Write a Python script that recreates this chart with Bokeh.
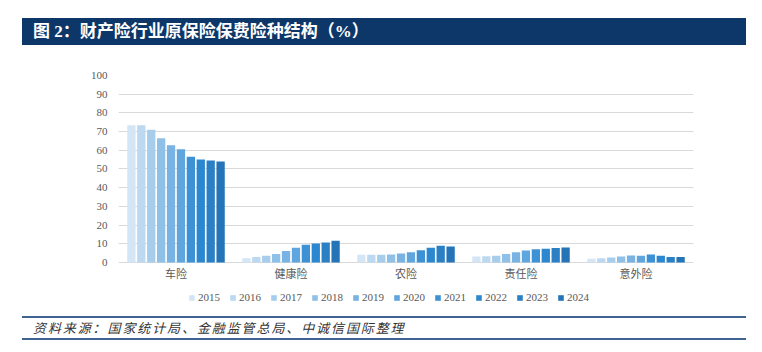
from bokeh.plotting import figure
from bokeh.models import (ColumnDataSource, FactorRange, Range1d, Div, Legend,
                          LegendItem, FixedTicker)
from bokeh.transform import dodge
from bokeh.layouts import column
from bokeh.embed import file_html
from bokeh.resources import INLINE

categories = ["车险", "健康险", "农险", "责任险", "意外险"]
years = ["2015", "2016", "2017", "2018", "2019", "2020", "2021", "2022", "2023", "2024"]
y_ticks = [0, 10, 20, 30, 40, 50, 60, 70, 80, 90, 100]

car = [73.4, 73.4, 71.0, 66.4, 62.7, 60.6, 56.5, 55.1, 54.6, 54.0]
health = [2.3, 2.9, 3.6, 4.5, 6.1, 7.9, 9.5, 10.2, 10.7, 11.6]
agri = [4.1, 4.1, 4.1, 4.3, 4.8, 5.5, 6.6, 7.9, 8.9, 8.6]
liability = [3.2, 3.4, 3.6, 4.6, 5.5, 6.4, 7.1, 7.3, 7.7, 8.0]
accident = [2.0, 2.3, 2.7, 3.2, 3.7, 3.6, 4.3, 3.6, 3.0, 3.0]

colors = ["#d4e6f6", "#bcd9f1", "#a6cdec", "#8fc0e8", "#78b3e3",
          "#60a6de", "#3d92d5", "#2b87cf", "#2a7fc5", "#2574b7"]

rows = [car, health, agri, liability, accident]
data = {"cat": categories}
for i, y in enumerate(years):
    data[y] = [r[i] for r in rows]
source = ColumnDataSource(data)

p = figure(x_range=FactorRange(*categories, range_padding=0),
           y_range=Range1d(-23, 100),
           width=762, height=265, output_backend="svg", toolbar_location=None,
           min_border_left=118, min_border_right=69, min_border_top=25,
           min_border_bottom=10)
p.outline_line_color = None
p.background_fill_color = "white"
p.border_fill_color = "white"

step = 0.0862
items = []
for i, y in enumerate(years):
    r = p.vbar(x=dodge("cat", (i - 4.5) * step, range=p.x_range), top=y,
               width=0.072, source=source, fill_color=colors[i],
               line_color=None)
    items.append(LegendItem(label=y, renderers=[r]))

p.yaxis.ticker = FixedTicker(ticks=y_ticks)
p.xaxis.fixed_location = 0
for ax in (p.xaxis[0], p.yaxis[0]):
    ax.axis_line_color = None
    ax.major_tick_line_color = None
    ax.minor_tick_line_color = None
    ax.major_tick_out = 0
    ax.major_tick_in = 0
    ax.major_label_text_color = "#595959"
p.yaxis.major_label_text_font = "Liberation Serif"
p.yaxis.major_label_text_font_size = "11px"
p.yaxis.major_label_standoff = 11
p.xaxis.major_label_text_font = "Noto Sans CJK SC"
p.xaxis.major_label_text_font_size = "11px"
p.xaxis.major_label_standoff = 3

p.xgrid.grid_line_color = None
p.ygrid.grid_line_color = "#d9d9d9"
p.ygrid.grid_line_width = 1

legend = Legend(items=items, orientation="horizontal", location=(70, 2),
                glyph_width=7, glyph_height=7, label_standoff=3, spacing=9,
                padding=2, margin=0, border_line_color=None,
                background_fill_alpha=0,
                label_text_font="Liberation Serif",
                label_text_font_size="11px", label_text_color="#595959")
p.add_layout(legend)

title_div = Div(
    text='<div style="margin-left:22px;margin-top:18px;width:724px;height:27px;'
         'background:#0c3768;color:#ffffff;font-family:\'Liberation Serif\',\'Noto Sans CJK SC\';'
         'font-size:17px;font-weight:bold;line-height:27px;padding-left:11px;'
         'box-sizing:border-box;white-space:nowrap;">图 2：财产险行业原保险保费险种结构（%）</div>',
    width=762, height=50, margin=0)

footer_div = Div(
    text='<div style="margin-left:22px;margin-top:1px;width:724px;height:24px;'
         'border-top:2px solid #3f6492;border-bottom:2px solid #3f6492;'
         'box-sizing:border-box;font-family:\'Noto Sans CJK SC\';font-style:italic;'
         'font-size:13px;letter-spacing:1.9px;line-height:20px;color:#333333;padding-left:11px;'
         'white-space:nowrap;">资料来源：国家统计局、金融监管总局、中诚信国际整理</div>',
    width=762, height=37, margin=0)

layout = column(title_div, p, footer_div, spacing=0)

open("out.html", "w").write(file_html(layout, INLINE))
